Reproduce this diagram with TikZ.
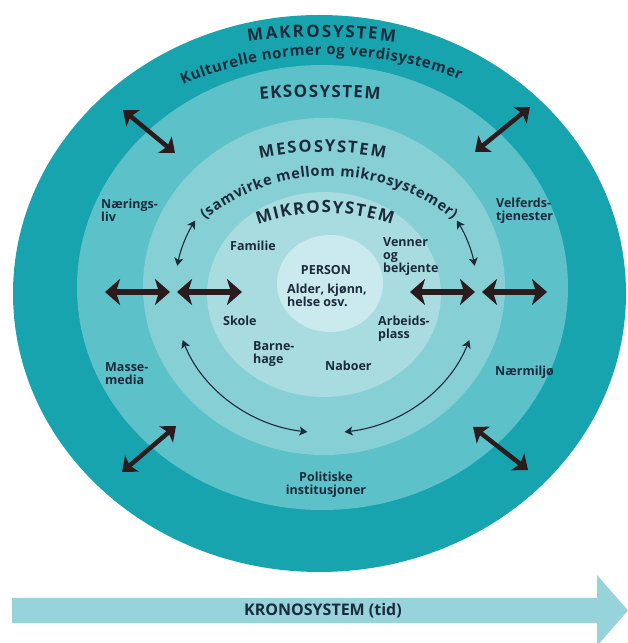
\documentclass[tikz,border=0pt]{standalone}
\usepackage{fontspec}
\setmainfont{Open Sans}
\usetikzlibrary{arrows.meta,decorations.text}
\definecolor{makro}{HTML}{17A4AE}
\definecolor{ekso}{HTML}{5CC1C9}
\definecolor{meso}{HTML}{86CFD5}
\definecolor{mikro}{HTML}{A9DCE0}
\definecolor{person}{HTML}{CBEAED}
\definecolor{krono}{HTML}{97D3DA}
\definecolor{ink}{HTML}{1C2B3B}
\definecolor{arrowc}{HTML}{2A1B1D}
\newcommand\lblfont{\fontsize{12.5}{13}\selectfont\bfseries}
\begin{document}
\begin{tikzpicture}[x=1pt,y=1pt,
  lbl/.style={font=\lblfont, text=ink, inner sep=0pt, align=left, anchor=north west},
  bigarrow/.style={draw=arrowc, line width=5.5pt,
    {Stealth[length=15pt,width=26pt,inset=4pt]}-{Stealth[length=15pt,width=26pt,inset=4pt]}},
  diagarrow/.style={draw=arrowc, line width=4.5pt,
    {Stealth[length=13pt,width=21pt,inset=3pt]}-{Stealth[length=13pt,width=21pt,inset=3pt]}},
  thinarrow/.style={draw=ink, line width=1.1pt,
    {Stealth[length=8pt,width=9pt,inset=2pt]}-{Stealth[length=8pt,width=9pt,inset=2pt]}},
  arctext/.style n args={2}{decorate, decoration={text effects along path, text={#1},
    text effects/.cd, text along path, fit text to path,
    characters={font=\fontsize{#2}{#2}\selectfont\bfseries, text=ink}}}
]
\useasboundingbox (0,0) rectangle (628,643);
% rings
\fill[makro] (319.5,349.5) ellipse [x radius=306.5, y radius=278.5];
\fill[ekso] (322.5,355.5) ellipse [x radius=245.5, y radius=222.5];
\fill[meso] (324,356.5) ellipse [x radius=181, y radius=168.5];
\fill[mikro] (324,348.5) ellipse [x radius=117, y radius=102.5];
\fill[person] (330,359.5) ellipse [x radius=53, y radius=48.5];
% curved titles
\path[arctext={MAKROSYSTEM}{17}] ([shift={(97.7:550)}]321.5,56) arc[start angle=97.7, end angle=82.3, radius=550];
\path[arctext={Kulturelle normer og verdisystemer}{15}] ([shift={(113.3:367)}]328,221) arc[start angle=113.3, end angle=68.9, radius=367];
\path[arctext={EKSOSYSTEM}{17}] ([shift={(94.8:720)}]320,-174) arc[start angle=94.8, end angle=85.2, radius=720];
\path[arctext={MESOSYSTEM}{16.5}] ([shift={(101.9:304)}]322.5,187) arc[start angle=101.9, end angle=78.1, radius=304];
\path[arctext={(samvirke mellom mikrosystemer)}{14.5}] ([shift={(129:197)}]329,270) arc[start angle=129, end angle=51, radius=197];
\path[arctext={MIKROSYSTEM}{17}] ([shift={(109.1:205)}]325,225) arc[start angle=109.1, end angle=70.9, radius=205];
% labels
\node[lbl] (naer) at (101,444) {Nærings-\\liv};
\node[lbl] (masse) at (105,281) {Masse-\\media};
\node[lbl] (velf) at (496,445) {Velferds-\\tjenester};
\node[lbl] (naermiljo) at (495,277) {Nærmiljø};
\node[lbl, align=center, anchor=north] (pol) at (326,171) {Politiske\\institusjoner};
\node[lbl] (fam) at (230,402) {Familie};
\node[lbl] (venner) at (383,406) {Venner\\og\\bekjente};
\node[lbl] (skole) at (223,327) {Skole};
\node[lbl] (barne) at (253,302) {Barne-\\hage};
\node[lbl] (nabo) at (325,282) {Naboer};
\node[lbl] (arb) at (378,327) {Arbeids-\\plass};
\node[lbl, anchor=north] (pers) at (326,378) {PERSON};
\node[lbl] (alder) at (287,359) {Alder, kjønn,\\helse osv.};
% thick horizontal arrows
\coordinate (h1a) at (105,351); \coordinate (h1b) at (170,351);
\coordinate (h2a) at (177,351); \coordinate (h2b) at (242,351);
\coordinate (h3a) at (410,351); \coordinate (h3b) at (475,351);
\coordinate (h4a) at (482,351); \coordinate (h4b) at (547,351);
\draw[bigarrow] (h1a) -- (h1b);
\draw[bigarrow] (h2a) -- (h2b);
\draw[bigarrow] (h3a) -- (h3b);
\draw[bigarrow] (h4a) -- (h4b);
% diagonal arrows
\coordinate (d1a) at (123,533); \coordinate (d1b) at (175,490);
\coordinate (d2a) at (475,491); \coordinate (d2b) at (530,536);
\coordinate (d3a) at (122,171); \coordinate (d3b) at (176,217);
\coordinate (d4a) at (473,216); \coordinate (d4b) at (528,173);
\draw[diagarrow] (d1a) -- (d1b);
\draw[diagarrow] (d2a) -- (d2b);
\draw[diagarrow] (d3a) -- (d3b);
\draw[diagarrow] (d4a) -- (d4b);
% thin curved arrows
\coordinate (t1) at ([shift={(150:151 and 139)}]326,353);
\coordinate (t2) at ([shift={(30:151 and 139)}]326,353);
\coordinate (b1) at ([shift={(200.5:153 and 143)}]326,353);
\coordinate (b2) at ([shift={(277:153 and 143)}]326,353);
\draw[thinarrow] (t1) arc[start angle=150, end angle=170, x radius=151, y radius=139];
\draw[thinarrow] (t2) arc[start angle=30, end angle=10, x radius=151, y radius=139];
\draw[thinarrow] (b1) arc[start angle=200.5, end angle=263, x radius=153, y radius=143];
\draw[thinarrow] (b2) arc[start angle=277, end angle=339.5, x radius=153, y radius=143];
% kronosystem arrow
\fill[krono] (12,20) -- (597,20) -- (597,-3) -- (628,32.5) -- (597,68) -- (597,45) -- (12,45) -- cycle;
\node[font=\fontsize{16}{16}\selectfont\bfseries, text=ink, inner sep=0pt] (krono) at (323,32.5) {KRONOSYSTEM (tid)};
\end{tikzpicture}
\end{document}
